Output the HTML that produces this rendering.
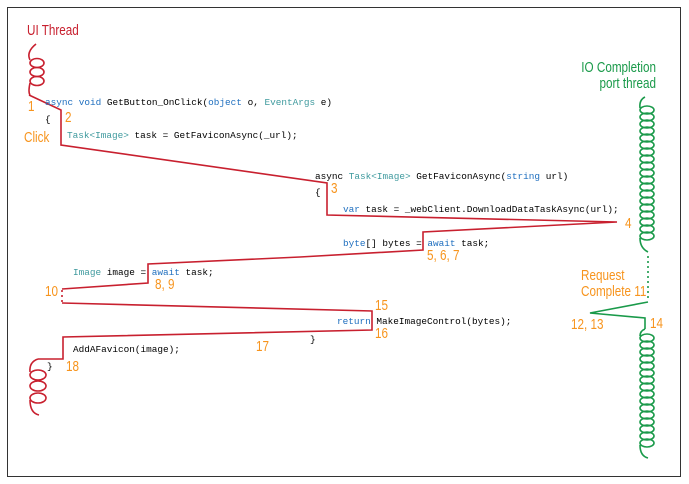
<!DOCTYPE html>
<html><head><meta charset="utf-8"><style>
html,body{margin:0;padding:0;background:#fff;}
svg{display:block;}
.c{font-family:"Liberation Mono",monospace;font-size:9.4px;fill:#000;}
.k{fill:#1f6fbf}.t{fill:#3f9a9e}
.o{font-family:"Liberation Sans",sans-serif;font-size:15px;fill:#f7941d;}
.g{font-family:"Liberation Sans",sans-serif;font-size:15px;fill:#1a9a4a;}
.r{font-family:"Liberation Sans",sans-serif;font-size:15px;fill:#c8202f;}
</style></head><body>
<svg width="689" height="484" viewBox="0 0 689 484" xmlns="http://www.w3.org/2000/svg">
<rect x="7.5" y="7.5" width="673" height="469" fill="#fff" stroke="#333" stroke-width="1"/>
<text class="r" transform="translate(27 35) scale(0.78 1)">UI Thread</text>
<text class="g" text-anchor="end" transform="translate(656 72) scale(0.78 1)">IO Completion</text>
<text class="g" text-anchor="end" transform="translate(656 88) scale(0.78 1)">port thread</text>
<g fill="none" stroke="#c8202f" stroke-width="1.6">
<path d="M36 44 Q26 52 30 60"/>
<ellipse cx="37" cy="63" rx="7" ry="4.5"/>
<ellipse cx="37" cy="72" rx="7" ry="4.5"/>
<ellipse cx="37" cy="81" rx="7" ry="4.5"/>
<path d="M30 83 Q28 92 30 95"/>
<path d="M29 95 L61 110 L61 145 L327 183 L327 215 L617 222 L423 232 L423 250 L300 257 L148 264 L148 283 L62 289"/>
<path d="M62 290 L62 302" stroke-dasharray="2 3"/>
<path d="M62 303 L372 311 L372 330 L63 337 L63 359 L38 359"/>
<path d="M38 359 Q29 362 30 372"/>
<ellipse cx="38" cy="375" rx="8" ry="5"/>
<ellipse cx="38" cy="386" rx="8" ry="5"/>
<ellipse cx="38" cy="398" rx="8" ry="5"/>
<path d="M30 400 Q30 413 39 415"/>
</g>
<g fill="none" stroke="#1a9a4a" stroke-width="1.6">
<path d="M645 97 Q639 100 640 108"/>
<ellipse cx="647" cy="110" rx="7" ry="4"/><ellipse cx="647" cy="117" rx="7" ry="4"/><ellipse cx="647" cy="124" rx="7" ry="4"/><ellipse cx="647" cy="131" rx="7" ry="4"/><ellipse cx="647" cy="138" rx="7" ry="4"/><ellipse cx="647" cy="145" rx="7" ry="4"/><ellipse cx="647" cy="152" rx="7" ry="4"/><ellipse cx="647" cy="159" rx="7" ry="4"/><ellipse cx="647" cy="166" rx="7" ry="4"/><ellipse cx="647" cy="173" rx="7" ry="4"/><ellipse cx="647" cy="180" rx="7" ry="4"/><ellipse cx="647" cy="187" rx="7" ry="4"/><ellipse cx="647" cy="194" rx="7" ry="4"/><ellipse cx="647" cy="201" rx="7" ry="4"/><ellipse cx="647" cy="208" rx="7" ry="4"/><ellipse cx="647" cy="215" rx="7" ry="4"/><ellipse cx="647" cy="222" rx="7" ry="4"/><ellipse cx="647" cy="229" rx="7" ry="4"/><ellipse cx="647" cy="236" rx="7" ry="4"/>
<path d="M640 238 Q640 248 648 252"/>
<path d="M648 256 L648 300" stroke-dasharray="2 3"/>
<path d="M648 302 L590 313 L645 318 L645 329"/>
<path d="M645 329 Q640 331 640 336"/>
<ellipse cx="647" cy="338" rx="7" ry="4"/><ellipse cx="647" cy="345" rx="7" ry="4"/><ellipse cx="647" cy="352" rx="7" ry="4"/><ellipse cx="647" cy="359" rx="7" ry="4"/><ellipse cx="647" cy="366" rx="7" ry="4"/><ellipse cx="647" cy="373" rx="7" ry="4"/><ellipse cx="647" cy="380" rx="7" ry="4"/><ellipse cx="647" cy="387" rx="7" ry="4"/><ellipse cx="647" cy="394" rx="7" ry="4"/><ellipse cx="647" cy="401" rx="7" ry="4"/><ellipse cx="647" cy="408" rx="7" ry="4"/><ellipse cx="647" cy="415" rx="7" ry="4"/><ellipse cx="647" cy="422" rx="7" ry="4"/><ellipse cx="647" cy="429" rx="7" ry="4"/><ellipse cx="647" cy="436" rx="7" ry="4"/><ellipse cx="647" cy="443" rx="7" ry="4"/>
<path d="M640 445 Q640 456 648 458"/>
</g>
<text class="c" x="45" y="105"><tspan class="k">async void</tspan> GetButton_OnClick(<tspan class="k">object</tspan> o, <tspan class="t">EventArgs</tspan> e)</text>
<text class="c" x="45" y="122">{</text>
<text class="c" x="67" y="138"><tspan class="t">Task&lt;Image&gt;</tspan> task = GetFaviconAsync(_url);</text>
<text class="c" x="315" y="179">async <tspan class="t">Task&lt;Image&gt;</tspan> GetFaviconAsync(<tspan class="k">string</tspan> url)</text>
<text class="c" x="315" y="195">{</text>
<text class="c" x="343" y="212"><tspan class="k">var</tspan> task = _webClient.DownloadDataTaskAsync(url);</text>
<text class="c" x="343" y="246"><tspan class="k">byte</tspan>[] bytes = <tspan class="k">await</tspan> task;</text>
<text class="c" x="73" y="275"><tspan class="t">Image</tspan> image = <tspan class="k">await</tspan> task;</text>
<text class="c" x="337" y="324"><tspan class="k">return</tspan> MakeImageControl(bytes);</text>
<text class="c" x="310" y="342">}</text>
<text class="c" x="73" y="352">AddAFavicon(image);</text>
<text class="c" x="47" y="369">}</text>
<text class="o" transform="translate(28 111) scale(0.78 1)">1</text>
<text class="o" transform="translate(65 122) scale(0.78 1)">2</text>
<text class="o" transform="translate(24 142) scale(0.78 1)">Click</text>
<text class="o" transform="translate(331 193) scale(0.78 1)">3</text>
<text class="o" transform="translate(625 228) scale(0.78 1)">4</text>
<text class="o" transform="translate(427 260) scale(0.78 1)">5, 6, 7</text>
<text class="o" transform="translate(155 289) scale(0.78 1)">8, 9</text>
<text class="o" transform="translate(45 296) scale(0.78 1)">10</text>
<text class="o" transform="translate(581 280) scale(0.78 1)">Request</text>
<text class="o" transform="translate(581 296) scale(0.78 1)">Complete 11</text>
<text class="o" transform="translate(375 310) scale(0.78 1)">15</text>
<text class="o" transform="translate(375 338) scale(0.78 1)">16</text>
<text class="o" transform="translate(571 329) scale(0.78 1)">12, 13</text>
<text class="o" transform="translate(650 328) scale(0.78 1)">14</text>
<text class="o" transform="translate(256 351) scale(0.78 1)">17</text>
<text class="o" transform="translate(66 371) scale(0.78 1)">18</text>
</svg>
</body></html>
